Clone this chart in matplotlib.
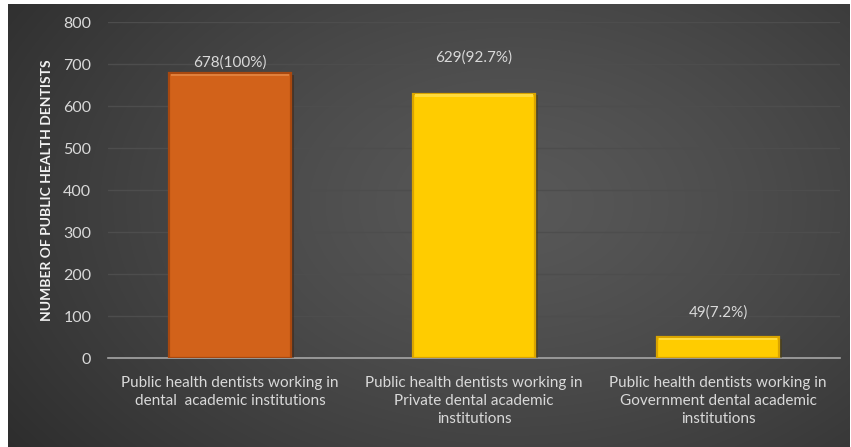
import numpy as np
import matplotlib
matplotlib.use("Agg")
import matplotlib.pyplot as plt
import matplotlib.patheffects as pe

# counts per institution type
categories = [
    "Public health dentists working in\ndental  academic institutions",
    "Public health dentists working in\nPrivate dental academic\ninstitutions",
    "Public health dentists working in\nGovernment dental academic\ninstitutions",
]
counts = [678, 629, 49]
percents = ["100%", "92.7%", "7.2%"]
yticks = [0, 100, 200, 300, 400, 500, 600, 700, 800]

bar_colors = ["#d2621a", "#ffcc00", "#ffcc00"]
edge_colors = ["#a8480f", "#d9a400", "#d9a400"]
top_colors = ["#e0803c", "#ffdb3d", "#ffdb3d"]
label_offsets = [8, 26, 18]  # points from bar top to label centre

plt.rcParams["font.family"] = ["Lato", "DejaVu Sans"]

fig = plt.figure(figsize=(8.51, 4.47), dpi=100)
fig.patch.set_facecolor("white")

# dark radial background
bg = fig.add_axes([8 / 851, 0, 842 / 851, 443 / 447], zorder=0)
h, w = 443, 842
yy, xx = np.mgrid[0:h, 0:w]
cx, cy = 0.60 * w, 0.45 * h
r = np.sqrt(((xx - cx) / (0.75 * w)) ** 2 + ((yy - cy) / (0.95 * h)) ** 2)
r = np.clip(r, 0, 1)
shade = 0.345 - 0.17 * r ** 1.3
img = np.dstack([shade, shade, shade])
bg.imshow(img, aspect="auto", extent=[0, 1, 0, 1], origin="upper")
bg.axis("off")

ax = fig.add_axes([108 / 851, 1 - 358 / 447, 732 / 851, 336 / 447], zorder=1)
ax.patch.set_alpha(0)

x = np.arange(len(counts))
bars = ax.bar(x, counts, width=0.5, color=bar_colors, edgecolor=edge_colors,
              linewidth=1.6, zorder=3)
for b in bars:
    b.set_path_effects([pe.SimplePatchShadow(offset=(2, -1), alpha=0.45),
                        pe.Normal()])
# lighter bevel along the top edge
ax.bar(x, [6] * len(counts), bottom=np.array(counts) - 7, width=0.48,
       color=top_colors, linewidth=0, zorder=4)

for xi, v, p, off in zip(x, counts, percents, label_offsets):
    ax.annotate(f"{v}({p})", (xi, v), xytext=(0, off), textcoords="offset points",
                ha="center", va="center", color="#d9d9d9", fontsize=11)

ax.set_xlim(-0.5, 2.5)
ax.set_ylim(0, 800)
ax.set_yticks(yticks)
ax.set_xticks(x)
ax.set_xticklabels(categories, color="#d9d9d9", fontsize=11, linespacing=1.35)
ax.tick_params(axis="y", colors="#d9d9d9", labelsize=11.5, length=0, pad=12)
ax.tick_params(axis="x", length=0, pad=13)
ax.grid(axis="y", color="#4d4d4d", linewidth=1, zorder=0)
for s in ["top", "right", "left"]:
    ax.spines[s].set_visible(False)
ax.spines["bottom"].set_color("#a6a6a6")
ax.spines["bottom"].set_linewidth(1.2)
ax.set_ylabel("NUMBER OF PUBLIC HEALTH DENTISTS", color="#f2f2f2",
              fontsize=10, fontweight="bold", labelpad=7)

fig.savefig("out.png", dpi=100)
